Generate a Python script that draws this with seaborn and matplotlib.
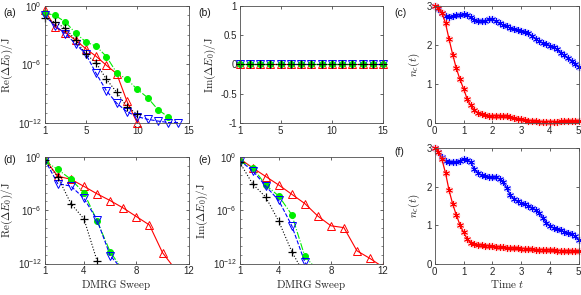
import numpy as np
import pandas as pd
import matplotlib
matplotlib.use("Agg")
import matplotlib.pyplot as plt
import seaborn as sns
from matplotlib.ticker import FixedLocator, LogLocator, NullFormatter, LogFormatterSciNotation

# ---------------- data (log10 of |Delta E0| / J) ----------------
# panel (a): Re(dE0) vs sweep
a_red_x = [1, 2, 3, 4, 5, 6, 7, 8, 9, 10]
a_red = [-0.45, -2.18, -2.75, -3.52, -4.4, -5.18, -6.1, -6.95, -9.78, -12.0]
a_green_x = [1, 2, 3, 4, 5, 6, 7, 8, 9, 10, 11, 12, 13]
a_green = [-0.72, -1.0, -1.65, -2.8, -3.7, -4.14, -5.2, -6.87, -7.53, -8.55, -9.4, -10.62, -11.37]
a_blue_x = [1, 2, 3, 4, 5, 6, 7, 8, 9, 10, 11, 12, 13, 14]
a_blue = [-1.0, -2.05, -2.85, -3.9, -4.95, -6.93, -8.7, -9.97, -10.85, -11.35, -11.62, -11.8, -11.95, -11.95]
a_black_x = [1, 2, 3, 4, 5, 6, 7, 8, 9, 10]
a_black = [-1.27, -1.7, -2.3, -3.52, -4.94, -5.85, -7.53, -8.86, -10.35, -11.08]

# panel (b): Im(dE0) vs sweep
b_x = list(range(1, 16))
b_val = [0.0] * 15

# panel (d): Re(dE0) vs sweep
d_red_x = [1, 2, 3, 4, 5, 6, 7, 8, 9, 10, 11]
d_red = [-0.2, -2.17, -2.51, -3.31, -4.15, -4.91, -5.75, -6.71, -7.66, -10.78, -12.7]
d_green_x = [1, 2, 3, 4, 5, 6, 7]
d_green = [-0.45, -1.4, -2.51, -4.03, -7.2, -10.68, -12.8]
d_blue_x = [1, 2, 3, 4, 5, 6, 7]
d_blue = [-0.3, -3.0, -3.28, -4.65, -7.09, -11.1, -12.8]
d_black_x = [1, 2, 3, 4, 5]
d_black = [-0.35, -2.25, -5.25, -6.98, -11.7]

# panel (e): Im(dE0) vs sweep
e_red_x = [1, 2, 3, 4, 5, 6, 7, 8, 9, 10, 11, 12]
e_red = [-0.2, -1.22, -2.2, -3.16, -4.2, -5.25, -6.66, -7.75, -7.96, -10.57, -11.43, -12.4]
e_green_x = [1, 2, 3, 4, 5, 6, 7]
e_green = [-0.45, -1.2, -3.16, -4.4, -6.51, -11.2, -12.8]
e_blue_x = [1, 2, 3, 4, 5, 6, 7]
e_blue = [-0.4, -1.55, -3.28, -4.9, -7.75, -11.85, -14.0]
e_black_x = [1, 2, 3, 4, 5, 6]
e_black = [-0.6, -3.05, -4.52, -7.25, -10.67, -13.3]

# panels (c), (f): n_c(t)
t_vals = [0.125 * i for i in range(41)]
c_blue = [3.0, 2.92, 2.82, 2.74, 2.71, 2.73, 2.75, 2.77, 2.78, 2.75, 2.7, 2.64, 2.61, 2.6,
          2.61, 2.65, 2.66, 2.6, 2.55, 2.5, 2.47, 2.43, 2.4, 2.38, 2.36, 2.34, 2.3, 2.22,
          2.16, 2.09, 2.05, 2.02, 1.98, 1.94, 1.88, 1.8, 1.73, 1.66, 1.58, 1.52, 1.44]
c_red = [3.0, 2.94, 2.82, 2.55, 2.14, 1.75, 1.4, 1.12, 0.88, 0.62, 0.45, 0.33, 0.26, 0.22,
         0.2, 0.19, 0.18, 0.18, 0.18, 0.18, 0.17, 0.15, 0.13, 0.11, 0.09, 0.07, 0.06, 0.05,
         0.04, 0.03, 0.03, 0.03, 0.03, 0.03, 0.03, 0.04, 0.04, 0.04, 0.04, 0.04, 0.04]
f_blue = [3.0, 2.88, 2.76, 2.66, 2.62, 2.62, 2.64, 2.67, 2.71, 2.69, 2.63, 2.45, 2.35, 2.29,
          2.26, 2.25, 2.24, 2.24, 2.2, 2.12, 1.97, 1.78, 1.68, 1.62, 1.58, 1.54, 1.5, 1.46,
          1.4, 1.33, 1.2, 1.07, 0.99, 0.94, 0.9, 0.87, 0.84, 0.81, 0.77, 0.72, 0.63]
f_red = [3.0, 2.9, 2.7, 2.35, 1.9, 1.55, 1.27, 1.02, 0.82, 0.66, 0.56, 0.52, 0.5, 0.49,
         0.48, 0.47, 0.46, 0.45, 0.44, 0.44, 0.43, 0.42, 0.41, 0.41, 0.4, 0.4, 0.39, 0.39,
         0.38, 0.38, 0.37, 0.37, 0.36, 0.36, 0.35, 0.35, 0.34, 0.34, 0.34, 0.33, 0.33]

# ---------------- style ----------------
sns.set_theme(style="ticks")
plt.rcParams["font.family"] = ["Liberation Sans", "DejaVu Sans"]
plt.rcParams["mathtext.fontset"] = "cm"
plt.rcParams["axes.edgecolor"] = "#4d4d4d"
plt.rcParams["axes.linewidth"] = 0.6

RED, GREEN, BLUE, BLACK = "#ff0000", "#00ee00", "#0000ff", "#000000"
W, H = 581, 295
fig = plt.figure(figsize=(W / 100, H / 100), dpi=100)


def add_ax(l, t, r, b):
    return fig.add_axes([l / W, 1 - b / H, (r - l) / W, (b - t) / H])


def style_ax(ax):
    ax.tick_params(direction="in", top=True, right=True, length=2.2, width=0.5,
                   labelsize=7, colors="#262626", pad=2)
    ax.tick_params(which="minor", direction="in", top=True, right=True, length=1.5, width=0.4)
    for s in ax.spines.values():
        s.set_visible(True)
        s.set_color("#4d4d4d")
        s.set_linewidth(0.6)


def series(ax, x, y, color, marker, ls, ms=6, filled=False, clip=True, log=True, mew=0.7):
    yy = [10.0 ** v for v in y] if log else y
    df = pd.DataFrame({"x": x, "y": yy})
    sns.lineplot(data=df, x="x", y="y", ax=ax, color=color, marker=marker, linestyle=ls,
                 linewidth=0.8, markersize=ms, markeredgecolor=color,
                 markerfacecolor=color if filled else "none", markeredgewidth=mew,
                 clip_on=clip, sort=False)


def star_series(ax, x, y, color, halo):
    df = pd.DataFrame({"x": x, "y": y})
    # soft halo behind each asterisk marker
    sns.lineplot(data=df, x="x", y="y", ax=ax, color=halo, marker="o", linestyle="none",
                 markersize=5.5, markeredgecolor="none", markerfacecolor=halo,
                 alpha=0.55, clip_on=False, sort=False)
    sns.lineplot(data=df, x="x", y="y", ax=ax, color=color, marker=(6, 2, 0), linestyle="-",
                 linewidth=0.9, markersize=5, markeredgecolor=color, markerfacecolor=color,
                 markeredgewidth=0.55, clip_on=False, sort=False)


def log_axis(ax):
    ax.set_yscale("log")
    ax.set_ylim(1e-12, 1)
    ax.yaxis.set_major_locator(FixedLocator([1e-12, 1e-6, 1]))
    ax.yaxis.set_major_formatter(LogFormatterSciNotation())
    ax.yaxis.set_minor_locator(LogLocator(base=10, subs=(1.0,), numticks=30))
    ax.yaxis.set_minor_formatter(NullFormatter())


LBL = 8
GMS = 4.3

# (a)
ax = add_ax(44.7, 5.7, 188.7, 123)
log_axis(ax)
series(ax, a_red_x, a_red, RED, "^", "-", clip=False)
series(ax, a_green_x, a_green, GREEN, "o", "-.", ms=GMS, filled=True, clip=False)
series(ax, a_blue_x, a_blue, BLUE, "v", "--", clip=False)
series(ax, a_black_x, a_black, BLACK, "+", ":", clip=False, mew=0.9)
ax.set_xlim(1, 15)
ax.set_xticks([1, 5, 10, 15])
ax.set_xlabel("")
ax.set_ylabel(r"$\mathrm{Re}(\Delta E_0)/\mathrm{J}$", fontsize=LBL, labelpad=2)
style_ax(ax)

# (b)
ax = add_ax(239.7, 5.7, 383, 123)
series(ax, b_x, b_val, RED, "^", "-", clip=False, log=False)
series(ax, b_x, b_val, BLUE, "v", "--", clip=False, log=False)
series(ax, b_x, b_val, GREEN, "o", "-.", ms=GMS, filled=True, clip=False, log=False)
series(ax, b_x, b_val, BLACK, "+", ":", clip=False, log=False, mew=0.9)
ax.set_xlim(1, 15)
ax.set_ylim(-1, 1)
ax.set_xticks([1, 5, 10, 15])
ax.set_yticks([-1, -0.5, 0, 0.5, 1])
ax.set_yticklabels(["-1", "-0.5", "0", "0.5", "1"])
ax.set_xlabel("")
ax.set_ylabel(r"$\mathrm{Im}(\Delta E_0)/\mathrm{J}$", fontsize=LBL, labelpad=2)
style_ax(ax)

# (c)
ax = add_ax(434.7, 5.7, 578.7, 123)
star_series(ax, t_vals, c_blue, BLUE, "#b3b3ff")
star_series(ax, t_vals, c_red, RED, "#ffb3b3")
ax.set_xlim(0, 5)
ax.set_ylim(0, 3)
ax.set_xticks([0, 1, 2, 3, 4, 5])
ax.set_yticks([0, 1, 2, 3])
ax.set_xlabel("")
ax.set_ylabel(r"$n_c(t)$", fontsize=LBL, labelpad=3)
style_ax(ax)

# (d)
ax = add_ax(44.7, 157, 188.7, 263.5)
log_axis(ax)
series(ax, d_red_x, d_red, RED, "^", "-")
series(ax, d_green_x, d_green, GREEN, "o", "-.", ms=GMS, filled=True)
series(ax, d_blue_x, d_blue, BLUE, "v", "--")
series(ax, d_black_x, d_black, BLACK, "+", ":", mew=0.9)
ax.set_xlim(1, 12)
ax.set_xticks([1, 4, 8, 12])
ax.set_xlabel(r"$\mathrm{DMRG\ Sweep}$", fontsize=LBL, labelpad=1)
ax.set_ylabel(r"$\mathrm{Re}(\Delta E_0)/\mathrm{J}$", fontsize=LBL, labelpad=2)
style_ax(ax)

# (e)
ax = add_ax(239.7, 157, 383, 263.5)
log_axis(ax)
series(ax, e_red_x, e_red, RED, "^", "-")
series(ax, e_green_x, e_green, GREEN, "o", "-.", ms=GMS, filled=True)
series(ax, e_blue_x, e_blue, BLUE, "v", "--")
series(ax, e_black_x, e_black, BLACK, "+", ":", mew=0.9)
ax.set_xlim(1, 12)
ax.set_xticks([1, 4, 8, 12])
ax.set_xlabel(r"$\mathrm{DMRG\ Sweep}$", fontsize=LBL, labelpad=1)
ax.set_ylabel(r"$\mathrm{Im}(\Delta E_0)/\mathrm{J}$", fontsize=LBL, labelpad=2)
style_ax(ax)

# (f)
ax = add_ax(434.7, 147.7, 578.7, 264.3)
star_series(ax, t_vals, f_blue, BLUE, "#b3b3ff")
star_series(ax, t_vals, f_red, RED, "#ffb3b3")
ax.set_xlim(0, 5)
ax.set_ylim(0, 3)
ax.set_xticks([0, 1, 2, 3, 4, 5])
ax.set_yticks([0, 1, 2, 3])
ax.set_xlabel(r"$\mathrm{Time}\ t$", fontsize=LBL, labelpad=1)
ax.set_ylabel(r"$n_c(t)$", fontsize=LBL, labelpad=3)
style_ax(ax)

# panel letters
for lab, px, py in [("(a)", 3, 13), ("(b)", 198, 13), ("(c)", 394, 13),
                    ("(d)", 3, 160), ("(e)", 198, 160), ("(f)", 394, 152)]:
    fig.text(px / W, 1 - py / H, lab, fontsize=7.5, va="center", ha="left", color="#1a1a1a")

fig.savefig("out.png", dpi=100)
